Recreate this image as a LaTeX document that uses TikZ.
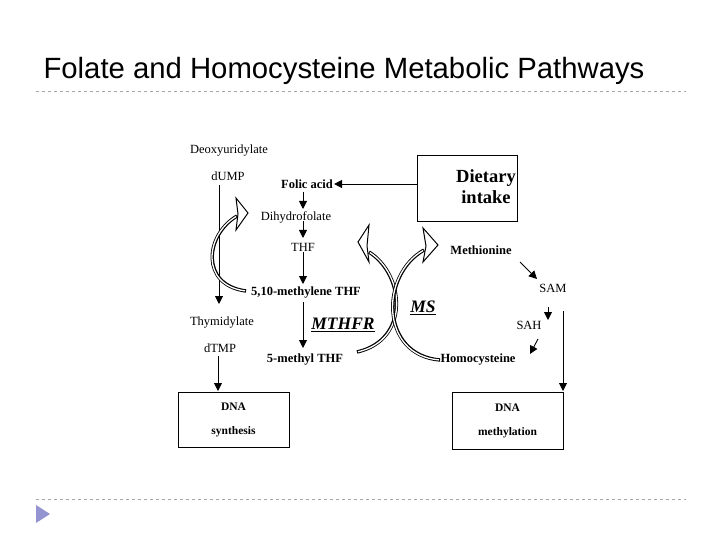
\documentclass[tikz,border=0pt]{standalone}
\usepackage{fontspec}
\setmainfont{Liberation Serif}
\newfontfamily\titlefont{Liberation Sans}
\usetikzlibrary{arrows.meta}
\begin{document}
\begin{tikzpicture}[x=1pt,y=-1pt,
  lbl/.style={inner sep=1pt,font=\fontsize{12.5}{14}\selectfont},
  blbl/.style={inner sep=1pt,font=\fontsize{12.5}{14}\selectfont\bfseries},
  box/.style={draw,line width=1pt,minimum width=#1},
  arr/.style={-{Triangle[length=8pt,width=8pt]},line width=0.9pt},
  tube/.style={line width=3.4pt},
  tubein/.style={white,line width=1.3pt,shorten >=1pt,shorten <=1pt},
  head/.style={draw,fill=white,line width=1pt,line join=miter}]
\useasboundingbox (0,0) rectangle (720,540);
\node[anchor=west,font=\titlefont\fontsize{29.3}{32}\selectfont] (title) at (40,71) {Folate and Homocysteine Metabolic Pathways};
\draw[gray!70,dashed,line width=0.6pt] (36,91) -- (686,91);
\draw[gray!70,dashed,line width=0.6pt] (36,499) -- (686,499);
\fill[gray!60!blue!60] (36,505) -- (50,514) -- (36,523) -- cycle;

\node[lbl] (deoxy) at (229,151) {Deoxyuridylate};
\node[lbl] (dump) at (228,176) {dUMP};
\node[blbl] (folic) at (307,184) {Folic acid};
\node[box=100pt,minimum height=66pt] (diet) at (467,189) {};
\node[font=\fontsize{18.5}{20}\selectfont\bfseries,align=center] (dtext) at (486,187) {Dietary\\[1pt]intake};
\node[lbl] (dihydro) at (296,217) {Dihydrofolate};
\node[lbl] (thf) at (303,247) {THF};
\node[blbl] (meth) at (306,293) {5,10-methylene THF};
\node[font=\fontsize{17.5}{20}\selectfont\bfseries\itshape] (mthfr) at (343,325) {\underline{MTHFR}};
\node[blbl] (methyl) at (305,360) {5-methyl THF};
\node[lbl] (thym) at (222,323) {Thymidylate};
\node[lbl] (dtmp) at (220,348) {dTMP};
\node[box=111pt,minimum height=55pt,align=center,font=\fontsize{11.5}{13}\selectfont\bfseries] (dnas) at (233.5,419.5) {DNA\\[11pt]synthesis};
\node[blbl] (methio) at (481,250) {Methionine};
\node[lbl] (sam) at (553,288) {SAM};
\node[lbl] (sah) at (529,325) {SAH};
\node[blbl] (homo) at (478,360) {Homocysteine};
\node[font=\fontsize{17.5}{20}\selectfont\bfseries\itshape] (ms) at (423,308) {\underline{MS}};
\node[box=111pt,minimum height=57pt,align=center,font=\fontsize{11.5}{13}\selectfont\bfseries] (dnam) at (507.5,420.5) {DNA\\[11pt]methylation};

\draw[arr] (219,185) -- (219,304);
\draw[arr] (diet.west |- folic) -- (folic.east);
\draw[arr] (303,192) -- (303,209);
\draw[arr] (303,221) -- (303,238);
\draw[arr] (thf.south) -- (303,284);
\draw[arr] (303,302) -- (303,348);
\draw[arr] (218,356) -- (218,391);
\draw[arr] (520,262) -- (537,279);
\draw[arr] (548,307) -- (548,320);
\draw[arr] (538,339) -- (530,354);
\draw[arr] (563,311) -- (563,391);

% left curved arrow
\coordinate (c1s) at (246,291);
\coordinate (c1e) at (237,216);
\draw[tube] (c1s) .. controls (200,285) and (205,235) .. (c1e);
\draw[tubein] (c1s) .. controls (200,285) and (205,235) .. (c1e);
\draw[head] (236,198) -- (248,213) -- (236,230) -- (238,214) -- cycle;
% MTHFR-side curved arrow
\coordinate (c2s) at (357,352);
\coordinate (c2e) at (369,252);
\draw[tube] (c2s) .. controls (410,340) and (405,275) .. (c2e);
\draw[tubein] (c2s) .. controls (410,340) and (405,275) .. (c2e);
\draw[head] (369,225) -- (358,242) -- (369,262) -- (367,246) -- cycle;
% MS-side curved arrow
\coordinate (c3s) at (440,360);
\coordinate (c3e) at (424,250);
\draw[tube] (c3s) .. controls (380,355) and (380,275) .. (c3e);
\draw[tubein] (c3s) .. controls (380,355) and (380,275) .. (c3e);
\draw[head] (423,228) -- (438,245) -- (423,262) -- (426,246) -- cycle;
\end{tikzpicture}
\end{document}
